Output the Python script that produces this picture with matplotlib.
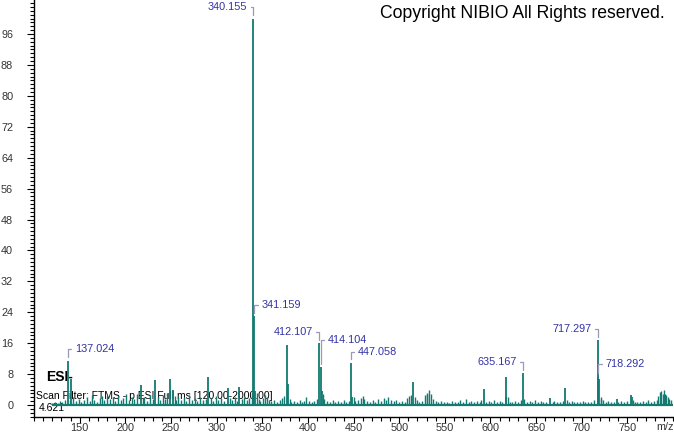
import matplotlib
matplotlib.use('Agg')
import matplotlib.pyplot as plt
from matplotlib.ticker import MultipleLocator

plt.rcParams['font.family'] = ['Liberation Sans', 'DejaVu Sans']

# main peaks (m/z, relative abundance)
peak_mz = [137.024, 141.0, 217.0, 233.0, 249.0, 252.0, 291.0, 312.0, 325.0,
           340.155, 341.159, 342.2, 377.1, 378.1, 412.107, 414.104, 415.1,
           447.058, 448.1, 515.0, 592.5, 616.5, 617.5, 635.167, 665.5, 682.0,
           717.297, 718.292, 719.3, 738.5, 753.5, 754.5]
peak_int = [11.5, 6.8, 5.2, 6.4, 6.8, 4.0, 7.3, 4.4, 4.7,
            100.0, 23.0, 3.5, 15.6, 5.5, 16.0, 9.8, 3.5,
            11.0, 2.0, 6.0, 4.1, 7.3, 2.0, 8.2, 1.8, 4.4,
            16.8, 7.3, 6.7, 1.6, 2.6, 2.2]

# small baseline peaks
noise_mz = [120, 123, 126, 129, 131, 134, 139, 143, 146, 149, 152, 155, 158, 161, 163,
            166, 169, 172, 175, 177, 180, 183, 186, 189, 192, 195, 198, 201, 204, 207,
            210, 213, 219, 221, 224, 227, 230, 236, 238, 241, 244, 246, 254, 256, 258,
            261, 264, 267, 270, 273, 276, 279, 282, 285, 288, 294, 296, 299, 302, 305,
            308, 315, 317, 320, 322, 328, 330, 333, 336, 339, 344, 346, 348, 351, 353,
            355, 357, 360, 363, 366, 369, 372, 374, 380, 382, 385, 388, 391, 394, 396,
            398, 401, 404, 407, 410, 416, 418, 421, 424, 427, 430, 433, 436, 439, 442,
            445, 450, 452, 455, 458, 460, 462, 465, 468, 471, 474, 477, 480, 483, 486,
            488, 491, 494, 497, 500, 503, 506, 509, 511, 513, 517, 519, 522, 525, 528,
            530, 531, 533, 535, 537, 540, 543, 546, 549, 552, 555, 558, 561, 564, 567,
            570, 573, 576, 579, 582, 585, 588, 590, 595, 598, 601, 604, 607, 610, 613,
            619, 621, 624, 627, 630, 633, 637, 640, 643, 646, 649, 652, 655, 658, 661,
            668, 670, 673, 676, 679, 684, 686, 689, 692, 695, 698, 701, 704, 707, 710,
            713, 720.5, 721.5, 723, 726, 729, 732, 735, 740, 743, 746, 749, 756, 758,
            761, 764, 767, 770, 773, 776, 779, 782, 784, 786, 787, 789, 790, 791, 792,
            794, 796, 798]
noise_int = [0.6, 0.9, 0.5, 1.1, 0.7, 1.4, 1.2, 2.1, 1.0, 1.6, 0.8, 1.3, 2.0, 1.1, 2.6,
             1.4, 0.9, 1.8, 2.3, 1.2, 2.7, 1.5, 2.2, 1.0, 2.4, 1.3, 1.9, 2.8, 1.2, 2.0,
             1.5, 2.9, 1.7, 2.2, 1.1, 2.5, 1.6, 2.0, 1.3, 2.6, 1.5, 3.0, 2.4, 1.2, 2.0,
             1.4, 2.2, 1.1, 2.5, 1.3, 1.8, 1.0, 2.1, 1.2, 1.6, 1.9, 1.0, 2.3, 1.3, 1.7,
             1.1, 1.9, 1.2, 2.0, 1.0, 1.6, 2.2, 1.2, 1.8, 3.0, 3.2, 1.5, 1.1, 1.8, 2.6,
             2.2, 1.3, 1.0, 1.4, 0.8, 1.2, 1.9, 2.4, 1.6, 0.9, 1.1, 0.7, 1.3, 0.9, 1.0,
             2.0, 1.1, 0.8, 1.0, 1.5, 2.8, 1.6, 1.0, 0.8, 1.2, 0.9, 1.0, 0.7, 1.3, 0.9,
             1.1, 2.0, 1.0, 1.2, 1.8, 2.4, 1.6, 1.0, 0.8, 1.3, 0.9, 1.6, 1.0, 1.9, 1.2,
             2.1, 1.4, 1.0, 1.3, 0.9, 1.1, 0.8, 1.7, 2.4, 2.6, 2.0, 1.2, 0.8, 1.1, 2.5,
             3.2, 2.8, 3.9, 2.9, 1.6, 1.0, 0.8, 1.1, 0.7, 0.9, 0.6, 1.0, 0.7, 0.8, 1.2,
             0.9, 1.6, 0.8, 1.0, 0.7, 1.1, 0.8, 1.2, 0.9, 1.1, 0.7, 1.2, 0.8, 1.0, 0.9,
             2.0, 0.9, 0.7, 1.1, 0.8, 1.2, 1.5, 0.8, 1.0, 0.9, 1.4, 0.8, 1.0, 0.7, 0.9,
             0.8, 1.0, 0.7, 0.9, 1.1, 1.3, 0.8, 1.0, 0.7, 0.9, 0.8, 1.1, 0.7, 0.9, 0.8,
             1.2, 2.2, 1.6, 1.2, 0.8, 1.0, 0.7, 0.9, 0.8, 1.0, 0.7, 1.1, 1.4, 0.9,
             0.8, 0.7, 1.0, 0.8, 1.2, 0.9, 1.1, 1.4, 2.3, 3.3, 3.7, 2.8, 3.9, 2.9, 2.5,
             2.0, 1.6, 1.2]

# labelled peaks
label_mz = [137.024, 340.155, 341.159, 412.107, 414.104, 447.058, 635.167, 717.297, 718.292]
label_int = [11.5, 100.0, 23.0, 16.0, 9.8, 11.0, 8.2, 16.8, 7.3]
label_txt = ['137.024', '340.155', '341.159', '412.107', '414.104', '447.058',
             '635.167', '717.297', '718.292']
label_side = ['r', 'l', 'r', 'l', 'r', 'r', 'l', 'l', 'r']   # text left/right of bracket
label_dy = [12, 12, 11, 11, 27, 11, 11, 11, 13]                # pixels above peak top

teal = '#137a72'
blue = '#3232a6'
brk = '#9a9ab8'

fig = plt.figure(figsize=(6.74, 4.34), dpi=100)
ax = fig.add_axes([34/674, 17/434, 640/674, 417/434])

ax.hlines(0, 120, 800, color=teal, lw=1.6, zorder=2)
ax.vlines(noise_mz, 0, noise_int, color=teal, lw=1.0, zorder=2)
ax.vlines(peak_mz, 0, peak_int, color=teal, lw=1.3, zorder=2)

for mz, h, t, s, dy in zip(label_mz, label_int, label_txt, label_side, label_dy):
    if s == 'l':
        dx, ha, rel = -6, 'right', (1, 0.5)
    else:
        dx, ha, rel = 7, 'left', (0, 0.5)
    ax.annotate(t, xy=(mz, h), xytext=(dx, dy), textcoords='offset pixels',
                ha=ha, va='center', color=blue, fontsize=7.8, zorder=4,
                arrowprops=dict(arrowstyle='-', color=brk, lw=0.9, shrinkA=0.5, shrinkB=2.5,
                                relpos=rel, connectionstyle='angle,angleA=0,angleB=90,rad=0'))

ax.text(113, 7.2, 'ESI-', fontsize=10, fontweight='bold', ha='left', va='center', zorder=1)
ax.text(102, 2.4, 'Scan Filter: FTMS - p ESI Full ms [120.00-2000.00]', fontsize=7.5,
        ha='left', va='center', zorder=1)
ax.text(105.5, -0.8, '4.621', fontsize=7.5, ha='left', va='center', zorder=1)

ax.set_xlim(100, 801)
ax.set_ylim(-3.1, 104.8)
ax.spines['top'].set_visible(False)
ax.spines['right'].set_visible(False)
ax.spines['left'].set_linewidth(1.0)
ax.spines['bottom'].set_linewidth(1.0)

ax.xaxis.set_minor_locator(MultipleLocator(10))
ax.yaxis.set_minor_locator(MultipleLocator(1))
ax.set_xticks(range(150, 751, 50))
ax.set_yticks(range(0, 97, 8))
ax.tick_params(which='major', length=4, width=0.8, labelsize=7.8, labelcolor='#333333')
ax.tick_params(which='minor', length=3, width=0.8)
ax.tick_params(axis='x', which='major', pad=0.5)
ax.tick_params(axis='y', which='major', length=5, pad=10)

fig.text(665/674, 1 - 427/434, 'm/z', fontsize=7.8, color='#333333', ha='center', va='center')
fig.text(665/674, 1 - 13/434, 'Copyright NIBIO All Rights reserved.', fontsize=12.7,
         ha='right', va='center')

fig.savefig('out.png', dpi=100)
